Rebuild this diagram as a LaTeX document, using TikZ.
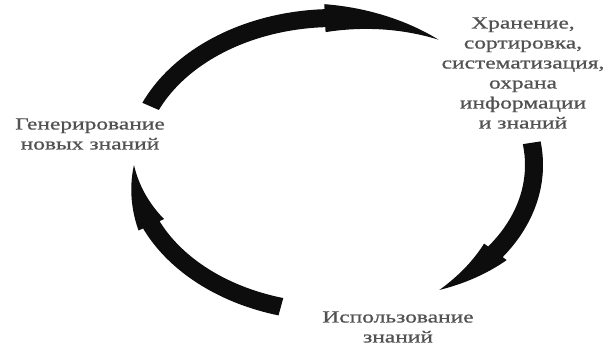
\documentclass[tikz,border=0pt]{standalone}
\usepackage{fontspec}
\newfontfamily\lblfont[FakeStretch=1.38,FakeBold=0.8]{Liberation Serif}
\usetikzlibrary{calc}

% ellipse of the cycle, in px
\newcommand{\ecx}{334}
\newcommand{\ecy}{165}
\newcommand{\ea}{200}
\newcommand{\eb}{147}
% #1 start angle, #2 barb angle, #3 tip angle
\newcommand{\cyclearrow}[3]{%
  \fill[arrowfill]
    plot[domain=#1:#2,samples=40] ({\ecx+(\ea+9)*cos(\x)},{\ecy-(\eb+9)*sin(\x)})
    -- plot[domain=#2:#3,samples=40] ({\ecx+(\ea+14*(#3-\x)/(#3-#2))*cos(\x)},{\ecy-(\eb+14*(#3-\x)/(#3-#2))*sin(\x)})
    -- plot[domain=#3:#2,samples=40] ({\ecx+(\ea-14*(#3-\x)/(#3-#2))*cos(\x)},{\ecy-(\eb-14*(#3-\x)/(#3-#2))*sin(\x)})
    -- plot[domain=#2:#1,samples=40] ({\ecx+(\ea-9)*cos(\x)},{\ecy-(\eb-9)*sin(\x)})
    -- cycle;}

\begin{document}
\begin{tikzpicture}[x=1pt,y=-1pt,
    arrowfill/.style={fill=black!95},
    lbl/.style={align=center,text=black!68,font=\lblfont\fontsize{17}{20}\selectfont,inner sep=0pt}]
  \useasboundingbox (0,0) rectangle (609,347);

  \cyclearrow{156.5}{92.6}{58.5}
  \cyclearrow{8.7}{-36.2}{-58.2}
  \cyclearrow{-105.4}{-156}{-180}

  \node[lbl] (store) at (523,73) {Хранение,\\сортировка,\\систематизация,\\охрана\\информации\\и знаний};
  \node[lbl] (gen) at (90,134) {Генерирование\\новых знаний};
  \node[lbl] (use) at (398,327) {Использование\\знаний};
\end{tikzpicture}
\end{document}
